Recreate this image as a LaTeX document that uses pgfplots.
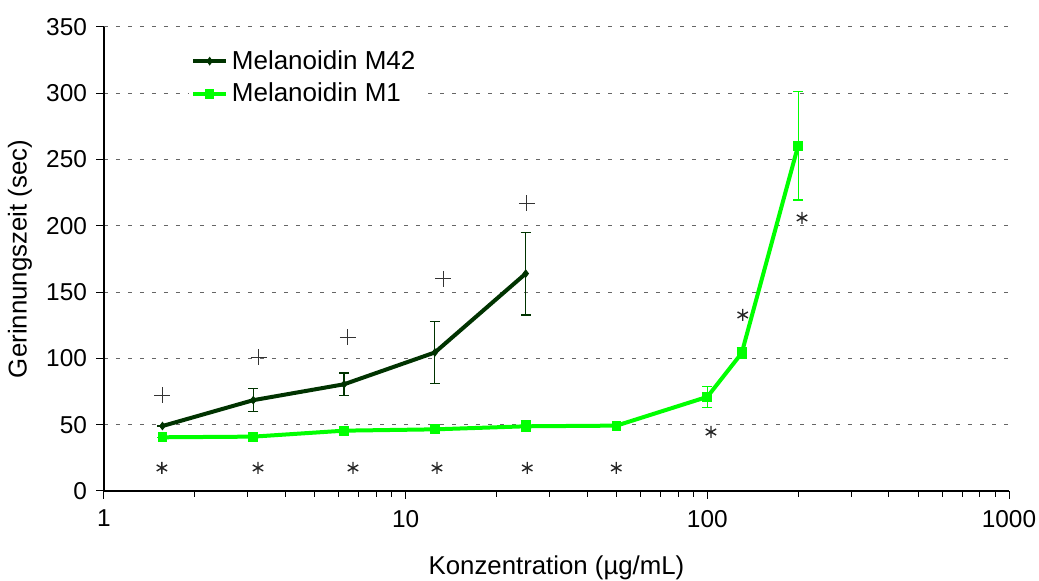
\documentclass[border=0pt]{standalone}
\usepackage{pgfplots}
\pgfplotsset{compat=1.18}
\usepackage{fontspec}
\setmainfont{Liberation Sans}
\definecolor{dkgreen}{RGB}{0,51,0}
\definecolor{ltgreen}{RGB}{0,255,0}
\begin{document}
\begin{tikzpicture}
\begin{axis}[name=ax,
  scale only axis, width=452.5pt, height=232pt,
  xmode=log, log basis x=10, xmin=1, xmax=1000,
  ymin=0, ymax=350, ytick={0,50,...,350},
  xtick={1,10,100,1000}, xticklabels={1,10,100,1000},
  minor xtick={2,3,4,5,6,7,8,9,20,30,40,50,60,70,80,90,200,300,400,500,600,700,800,900},
  axis x line*=bottom, axis y line*=left,
  axis line style={-, line width=0.6pt},
  tick align=outside, tick style={black, line width=0.5pt},
  major tick length=4pt, minor tick length=3pt,
  ymajorgrids, grid style={gray!80!black, dash pattern=on 2pt off 4pt, line width=0.5pt},
  minor grid style={draw=none},
  font=\fontsize{12.2}{14}\selectfont,
  /pgf/number format/assume math mode=true,
  xticklabel style={yshift=-2pt},
  yticklabel style={xshift=-1pt},
  xlabel={Konzentration (µg/mL)}, ylabel={Gerinnungszeit (sec)},
  label style={font=\fontsize{12.9}{15}\selectfont},
  xlabel style={at={(axis description cs:0.5,-0.166)}, anchor=center},
  ylabel style={at={(axis description cs:-0.0928,0.5)}, anchor=center},
  legend style={at={(0.094,0.968)}, anchor=north west, draw=none, fill=white,
    font=\fontsize{13}{15}\selectfont, row sep=1.5pt, inner xsep=1pt, cells={anchor=west}},
  legend image post style={xscale=0.95},
  legend cell align=left,
]
\addplot+[dkgreen, line width=2pt, mark=diamond*, mark size=1.8pt,
  mark options={solid, line width=0.5pt, fill=dkgreen},
  error bars/.cd, y dir=both, y explicit,
  error bar style={line width=0.6pt, dkgreen},
  error mark options={rotate=90, mark size=2.5pt, line width=0.6pt, dkgreen}]
coordinates {
(1.5625,49) +- (0,0)
(3.125,68.5) +- (0,8.7)
(6.25,80.5) +- (0,8.5)
(12.5,104.5) +- (0,23.2)
(25,164) +- (0,31.2)
};
\addlegendentry{Melanoidin M42}
\addplot+[ltgreen, line width=2pt, mark=square*, mark size=2.2pt,
  mark options={solid, line width=0.5pt, fill=ltgreen},
  error bars/.cd, y dir=both, y explicit,
  error bar style={line width=0.6pt, ltgreen},
  error mark options={rotate=90, mark size=2.5pt, line width=0.6pt, ltgreen}]
coordinates {
(1.5625,40.5) +- (0,0)
(3.125,41) +- (0,0)
(6.25,45.5) +- (0,0)
(12.5,46.5) +- (0,0)
(25,48.8) +- (0,4)
(50,49.3) +- (0,0)
(100,71) +- (0,8)
(130,104) +- (0,4)
(200,260.5) +- (0,41)
};
\addlegendentry{Melanoidin M1}
\addplot[only marks, mark=+, mark size=4pt, mark options={line width=0.5pt, black!80}, forget plot]
coordinates {(1.5625,72.4) (3.26,101) (6.44,116) (13.3,160) (25.2,217)};
\addplot[only marks, mark=asterisk, mark size=3pt, mark options={line width=0.7pt, black!85}, forget plot]
coordinates {(1.556,17.4) (3.24,17.4) (6.69,17.4) (12.7,17.4) (25.3,17.4) (49.9,17.4)
(102.8,44.5) (131,132.8) (206,206)};
\end{axis}
\pgfresetboundingbox
\path ([xshift=-52pt,yshift=-45pt]ax.south west) rectangle ([xshift=15pt,yshift=13.5pt]ax.north east);
\end{tikzpicture}
\end{document}
